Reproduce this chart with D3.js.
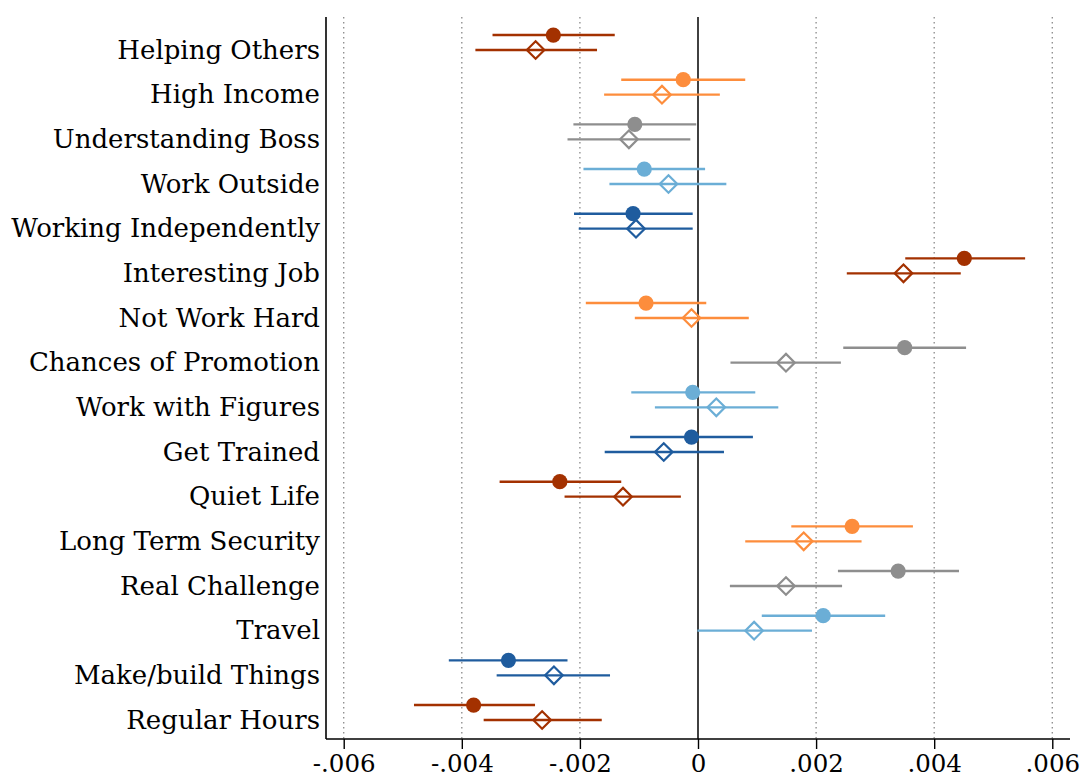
<!DOCTYPE html>
<html>
<head>
<meta charset="utf-8">
<script src="https://cdn.jsdelivr.net/npm/d3@7"></script>
<style>
  body { margin: 0; background: #fff; }
  svg { display: block; }
  .lab text, .x.axis text { font-family: "DejaVu Serif", "Liberation Serif", serif; fill: #000; }
  .gridline { stroke: #8a8a8a; stroke-width: 1.3; stroke-dasharray: 1.5 3.5; }
  .zeroline { stroke: #111; stroke-width: 1.6; }
</style>
</head>
<body>
<div id="chart"></div>
<script>
// categories, top to bottom
var categories = ["Helping Others", "High Income", "Understanding Boss", "Work Outside",
  "Working Independently", "Interesting Job", "Not Work Hard", "Chances of Promotion",
  "Work with Figures", "Get Trained", "Quiet Life", "Long Term Security", "Real Challenge",
  "Travel", "Make/build Things", "Regular Hours"];

// series 1 (filled circles): estimate and 95% CI
var est1 = [-0.00245, -0.00025, -0.00107, -0.00091, -0.00110, 0.00451, -0.00088, 0.00350,
  -0.00009, -0.00011, -0.00234, 0.00261, 0.00339, 0.00212, -0.00321, -0.00380];
var lo1 = [-0.00348, -0.00130, -0.00211, -0.00194, -0.00210, 0.00351, -0.00190, 0.00246,
  -0.00113, -0.00115, -0.00336, 0.00158, 0.00237, 0.00108, -0.00422, -0.00481];
var hi1 = [-0.00141, 0.00080, -0.00003, 0.00012, -0.00009, 0.00554, 0.00014, 0.00454,
  0.00097, 0.00093, -0.00130, 0.00364, 0.00442, 0.00317, -0.00221, -0.00276];

// series 2 (hollow diamonds): estimate and 95% CI
var est2 = [-0.00275, -0.00061, -0.00117, -0.00050, -0.00105, 0.00348, -0.00011, 0.00149,
  0.00031, -0.00058, -0.00127, 0.00179, 0.00149, 0.00095, -0.00244, -0.00264];
var lo2 = [-0.00377, -0.00159, -0.00221, -0.00150, -0.00202, 0.00252, -0.00107, 0.00055,
  -0.00073, -0.00158, -0.00226, 0.00080, 0.00054, -0.00001, -0.00341, -0.00363];
var hi2 = [-0.00171, 0.00037, -0.00013, 0.00048, -0.00009, 0.00445, 0.00086, 0.00242,
  0.00136, 0.00044, -0.00029, 0.00277, 0.00244, 0.00193, -0.00149, -0.00163];

var xTicks = [-0.006, -0.004, -0.002, 0, 0.002, 0.004, 0.006];
var xTickLabels = ["-.006", "-.004", "-.002", "0", ".002", ".004", ".006"];
var palette = ["#a33100", "#fd8d3c", "#8e8e8e", "#6baed6", "#1f5c9e"];

var width = 1080, height = 779;
var margin = {top: 17, right: 10, bottom: 40, left: 326};
var w = width - margin.left - margin.right;
var h = height - margin.top - margin.bottom;

var svg = d3.select("#chart").append("svg").attr("width", width).attr("height", height);
var g = svg.append("g").attr("transform", "translate(" + margin.left + "," + margin.top + ")");

var x = d3.scaleLinear().domain([-0.0063, 0.0063]).range([0, w]);
var y = d3.scalePoint().domain(categories).range([33, h - 19]);
var step = y.step();
var off = step * 0.335; // circle sits above the diamond

function colorOf(i) { return palette[i % palette.length]; }

// vertical grid
g.selectAll(".gridline").data(xTicks.filter(function(d) { return d !== 0; }))
  .enter().append("line")
  .attr("class", "gridline")
  .attr("x1", function(d) { return x(d); }).attr("x2", function(d) { return x(d); })
  .attr("y1", 0).attr("y2", h);

g.append("line").attr("class", "zeroline")
  .attr("x1", x(0)).attr("x2", x(0)).attr("y1", 0).attr("y2", h);

// rows
var rows = categories.map(function(c, i) {
  return {cat: c, i: i, e1: est1[i], l1: lo1[i], h1: hi1[i], e2: est2[i], l2: lo2[i], h2: hi2[i]};
});

var row = g.selectAll(".row").data(rows).enter().append("g").attr("class", "row");

row.append("line")
  .attr("x1", function(d) { return x(d.l1); }).attr("x2", function(d) { return x(d.h1); })
  .attr("y1", function(d) { return y(d.cat) - off; }).attr("y2", function(d) { return y(d.cat) - off; })
  .attr("stroke", function(d) { return colorOf(d.i); }).attr("stroke-width", 2.4);

row.append("line")
  .attr("x1", function(d) { return x(d.l2); }).attr("x2", function(d) { return x(d.h2); })
  .attr("y1", function(d) { return y(d.cat); }).attr("y2", function(d) { return y(d.cat); })
  .attr("stroke", function(d) { return colorOf(d.i); }).attr("stroke-width", 2.4);

row.append("circle")
  .attr("cx", function(d) { return x(d.e1); })
  .attr("cy", function(d) { return y(d.cat) - off; })
  .attr("r", 7.6)
  .attr("fill", function(d) { return colorOf(d.i); });

var dia = 8.8;
row.append("path")
  .attr("d", "M0," + (-dia) + "L" + dia + ",0L0," + dia + "L" + (-dia) + ",0Z")
  .attr("transform", function(d) { return "translate(" + x(d.e2) + "," + y(d.cat) + ")"; })
  .attr("fill", "none")
  .attr("stroke", function(d) { return colorOf(d.i); })
  .attr("stroke-width", 2.2);

// category labels
g.append("g").attr("class", "lab").selectAll("text").data(categories)
  .enter().append("text")
  .attr("x", -6)
  .attr("y", function(d) { return y(d); })
  .attr("dy", "0.33em")
  .attr("text-anchor", "end")
  .style("font-size", "26px")
  .text(function(d) { return d; });

// axes lines
g.append("line").attr("x1", 0).attr("x2", 0).attr("y1", 0).attr("y2", h)
  .attr("stroke", "#000").attr("stroke-width", 1.6);

var xAxis = d3.axisBottom(x).tickValues(xTicks).tickSize(10).tickPadding(6)
  .tickFormat(function(d, i) { return xTickLabels[i]; });
var ax = g.append("g").attr("class", "x axis").attr("transform", "translate(0," + h + ")").call(xAxis);
ax.select(".domain").attr("stroke-width", 1.6).attr("d", "M0,0H" + w);
ax.selectAll(".tick line").attr("stroke-width", 1.4);
ax.selectAll(".tick text").style("font-size", "24.5px");
</script>
</body>
</html>
